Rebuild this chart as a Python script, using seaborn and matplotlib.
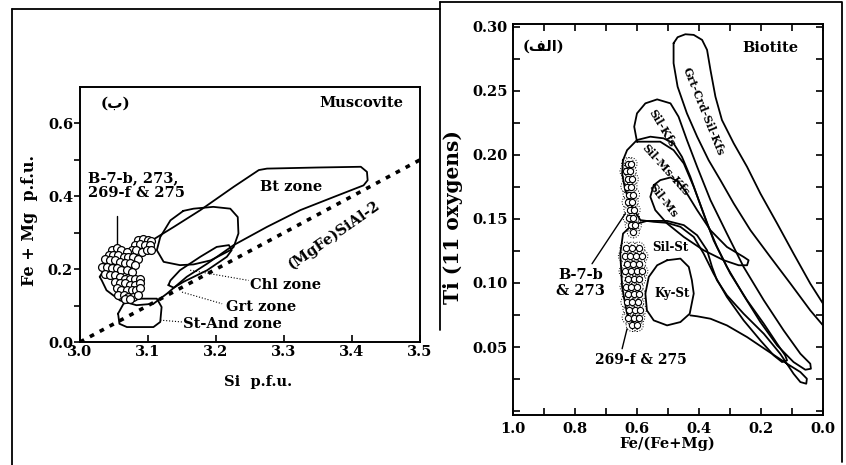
import numpy as np
import matplotlib
matplotlib.use("Agg")
import matplotlib.pyplot as plt
import seaborn as sns
from matplotlib.lines import Line2D
from matplotlib.ticker import FixedLocator, FormatStrFormatter

# ---------------- Muscovite panel (Si vs Fe+Mg) ----------------
tsch_si = [3.0, 3.5]
tsch_femg = [0.0, 0.5]

bt_si = [3.029, 3.044, 3.069, 3.098, 3.138, 3.177, 3.226, 3.263, 3.275, 3.349, 3.413, 3.422,
         3.423, 3.417, 3.373, 3.324, 3.275, 3.226, 3.187, 3.157, 3.128, 3.108, 3.083, 3.059,
         3.039, 3.032]
bt_femg = [0.179, 0.225, 0.252, 0.270, 0.316, 0.362, 0.426, 0.472, 0.476, 0.479, 0.481, 0.467,
           0.444, 0.430, 0.398, 0.362, 0.316, 0.266, 0.215, 0.179, 0.133, 0.105, 0.101, 0.114,
           0.142, 0.169]

chl_si = [3.152, 3.167, 3.196, 3.221, 3.232, 3.233, 3.226, 3.221, 3.192, 3.167, 3.147, 3.123,
          3.113, 3.118, 3.133]
chl_femg = [0.360, 0.366, 0.371, 0.366, 0.343, 0.298, 0.261, 0.252, 0.224, 0.213, 0.211, 0.220,
            0.252, 0.288, 0.334]

grt_si = [3.130, 3.133, 3.147, 3.177, 3.201, 3.219, 3.223, 3.216, 3.187, 3.152, 3.138]
grt_femg = [0.156, 0.169, 0.197, 0.234, 0.261, 0.266, 0.252, 0.234, 0.197, 0.165, 0.149]

stand_si = [3.056, 3.064, 3.088, 3.113, 3.120, 3.118, 3.108, 3.069, 3.058]
stand_femg = [0.078, 0.105, 0.119, 0.119, 0.096, 0.055, 0.041, 0.041, 0.050]

ms_si = [3.086, 3.093, 3.100, 3.105, 3.081, 3.088, 3.096, 3.103, 3.076, 3.083, 3.091, 3.098,
         3.105, 3.047, 3.054, 3.061, 3.069, 3.042, 3.049, 3.056, 3.064, 3.071, 3.078, 3.086,
         3.037, 3.044, 3.051, 3.059, 3.066, 3.074, 3.081, 3.032, 3.039, 3.047, 3.054, 3.061,
         3.069, 3.076, 3.037, 3.044, 3.051, 3.059, 3.066, 3.074, 3.081, 3.088,
         3.051, 3.059, 3.066, 3.074, 3.081, 3.088, 3.054, 3.061, 3.069, 3.076, 3.083, 3.088,
         3.056, 3.064, 3.071, 3.078, 3.086, 3.066, 3.074]
ms_femg = [0.279, 0.284, 0.279, 0.277, 0.266, 0.270, 0.266, 0.266, 0.252, 0.252, 0.247, 0.252,
           0.252, 0.252, 0.257, 0.252, 0.247, 0.238, 0.238, 0.238, 0.234, 0.234, 0.234, 0.229,
           0.229, 0.225, 0.225, 0.220, 0.216, 0.216, 0.211, 0.206, 0.206, 0.202, 0.202, 0.197,
           0.197, 0.193, 0.188, 0.184, 0.184, 0.179, 0.174, 0.174, 0.174, 0.174,
           0.165, 0.161, 0.161, 0.156, 0.156, 0.161, 0.147, 0.142, 0.142, 0.142, 0.142, 0.147,
           0.129, 0.129, 0.124, 0.124, 0.129, 0.118, 0.118]

# ---------------- Biotite panel (Fe/(Fe+Mg) vs Ti) ----------------
gcsk_x = [0.482, 0.482, 0.469, 0.439, 0.406, 0.369, 0.331, 0.288, 0.234, 0.170, 0.105, 0.041,
          0.0, -0.024, -0.024, 0.0, 0.041, 0.095, 0.148, 0.202, 0.245, 0.288, 0.326, 0.347,
          0.363, 0.374, 0.390, 0.417, 0.444, 0.469]
gcsk_ti = [0.2870, 0.2714, 0.2531, 0.2323, 0.2141, 0.1958, 0.1802, 0.1620, 0.1411, 0.1203,
           0.0995, 0.0786, 0.0669, 0.0604, 0.0773, 0.0839, 0.0995, 0.1229, 0.1464, 0.1698,
           0.1906, 0.2089, 0.2271, 0.2453, 0.2661, 0.2818, 0.2896, 0.2935, 0.2940, 0.2917]

silkfs_x = [0.600, 0.609, 0.600, 0.573, 0.535, 0.492, 0.466, 0.439, 0.406, 0.363, 0.310, 0.256,
            0.191, 0.127, 0.073, 0.041, 0.039, 0.057, 0.095, 0.148, 0.202, 0.256, 0.310, 0.353,
            0.385, 0.417, 0.449, 0.482, 0.525]
silkfs_ti = [0.2102, 0.2219, 0.2323, 0.2401, 0.2432, 0.2401, 0.2297, 0.2115, 0.1906, 0.1646,
             0.1385, 0.1125, 0.0865, 0.0630, 0.0448, 0.0370, 0.0331, 0.0323, 0.0383, 0.0513,
             0.0695, 0.0904, 0.1125, 0.1333, 0.1542, 0.1750, 0.1932, 0.2036, 0.2102]

silmskfs_x = [0.645, 0.632, 0.600, 0.557, 0.514, 0.482, 0.455, 0.428, 0.401, 0.374, 0.342,
              0.299, 0.245, 0.191, 0.148, 0.122, 0.116, 0.132, 0.159, 0.202, 0.256, 0.310,
              0.353, 0.385, 0.417, 0.460, 0.503, 0.546, 0.589, 0.616, 0.638, 0.648]
silmskfs_ti = [0.1958, 0.2036, 0.2115, 0.2141, 0.2128, 0.2089, 0.1984, 0.1828, 0.1646, 0.1464,
               0.1281, 0.1073, 0.0865, 0.0682, 0.0526, 0.0435, 0.0396, 0.0383, 0.0435, 0.0552,
               0.0708, 0.0891, 0.1073, 0.1229, 0.1359, 0.1438, 0.1469, 0.1477, 0.1490, 0.1594,
               0.1724, 0.1854]

silms_x = [0.546, 0.525, 0.492, 0.466, 0.439, 0.406, 0.363, 0.310, 0.256, 0.240, 0.245, 0.272,
           0.320, 0.385, 0.449, 0.503, 0.541, 0.557]
silms_ti = [0.1763, 0.1802, 0.1823, 0.1789, 0.1698, 0.1568, 0.1411, 0.1281, 0.1203, 0.1177,
            0.1138, 0.1138, 0.1177, 0.1255, 0.1359, 0.1464, 0.1568, 0.1672]

silst_x = [0.600, 0.632, 0.648, 0.654, 0.645, 0.616, 0.568, 0.503, 0.449, 0.406, 0.374, 0.358,
           0.342, 0.310, 0.256, 0.191, 0.138, 0.095, 0.073, 0.054, 0.052, 0.073, 0.116, 0.181,
           0.245, 0.310, 0.363, 0.406, 0.428]
silst_ti = [0.0643, 0.0760, 0.0969, 0.1229, 0.1385, 0.1451, 0.1484, 0.1484, 0.1451, 0.1372,
            0.1255, 0.1125, 0.1021, 0.0904, 0.0760, 0.0604, 0.0448, 0.0292, 0.0227, 0.0214,
            0.0253, 0.0305, 0.0370, 0.0474, 0.0578, 0.0669, 0.0721, 0.0740, 0.0747]

kyst_x = [0.503, 0.460, 0.433, 0.423, 0.417, 0.430, 0.460, 0.503, 0.546, 0.568, 0.573, 0.562,
          0.535]
kyst_ti = [0.1177, 0.1190, 0.1125, 0.1021, 0.0917, 0.0760, 0.0695, 0.0669, 0.0708, 0.0786,
           0.0917, 0.1047, 0.1138]

bt_up_x = [0.630, 0.620, 0.635, 0.622, 0.628, 0.616, 0.632, 0.620, 0.625, 0.612, 0.628, 0.616,
           0.622, 0.610, 0.625, 0.612, 0.618, 0.606, 0.612]
bt_up_ti = [0.193, 0.193, 0.187, 0.187, 0.181, 0.181, 0.175, 0.175, 0.169, 0.169, 0.163, 0.163,
            0.157, 0.157, 0.151, 0.151, 0.145, 0.145, 0.140]

bt_lo_x = [0.635, 0.615, 0.595, 0.640, 0.622, 0.602, 0.585, 0.632, 0.612, 0.592, 0.638, 0.620,
           0.600, 0.585, 0.630, 0.610, 0.592, 0.635, 0.618, 0.600, 0.628, 0.610, 0.592, 0.632,
           0.615, 0.598, 0.625, 0.607, 0.590, 0.628, 0.610, 0.595, 0.615, 0.600]
bt_lo_ti = [0.127, 0.127, 0.127, 0.121, 0.121, 0.121, 0.121, 0.115, 0.115, 0.115, 0.109, 0.109,
            0.109, 0.109, 0.103, 0.103, 0.103, 0.097, 0.097, 0.097, 0.091, 0.091, 0.091, 0.085,
            0.085, 0.085, 0.079, 0.079, 0.079, 0.073, 0.073, 0.073, 0.067, 0.067]

# ---------------- style ----------------
sns.set_theme(style="white")
plt.rcParams['font.family'] = ['DejaVu Serif', 'DejaVu Sans']
plt.rcParams['font.weight'] = 'bold'
plt.rcParams['axes.labelweight'] = 'bold'
plt.rcParams['text.color'] = 'black'
plt.rcParams['axes.labelcolor'] = 'black'
plt.rcParams['xtick.color'] = 'black'
plt.rcParams['ytick.color'] = 'black'

W, H = 846, 465
fig = plt.figure(figsize=(W / 100, H / 100), dpi=100)
fig.patch.set_facecolor('white')


def fx(p):
    return p / W


def fy(p):
    return 1 - p / H


def outline(ax, xs, ys, closed=True, **kw):
    xs = list(xs)
    ys = list(ys)
    if closed:
        xs = xs + xs[:1]
        ys = ys + ys[:1]
    ax.plot(xs, ys, color='black', lw=1.3, solid_capstyle='round', **kw)


# frames
frame_kw = dict(transform=fig.transFigure, color='black', lw=1.3)
fig.add_artist(Line2D([fx(12), fx(12)], [fy(9), fy(465)], **frame_kw))
fig.add_artist(Line2D([fx(12), fx(440)], [fy(9), fy(9)], **frame_kw))
fig.add_artist(Line2D([fx(440), fx(842), fx(842)], [fy(2), fy(2), fy(462)], **frame_kw))
fig.add_artist(Line2D([fx(440), fx(440)], [fy(2), fy(330)], **frame_kw))

# ---- left: Muscovite ----
ax1 = fig.add_axes([fx(80), fy(342), fx(340), 255 / H])
ax1.set_xlim(3.0, 3.5)
ax1.set_ylim(0.0, 0.70)

ax1.plot(tsch_si, tsch_femg, color='black', lw=2.6, linestyle=(0, (1.3, 1.8)), zorder=4)
outline(ax1, bt_si, bt_femg)
outline(ax1, chl_si, chl_femg)
outline(ax1, grt_si, grt_femg)
outline(ax1, stand_si, stand_femg)
sns.scatterplot(x=ms_si, y=ms_femg, ax=ax1, marker='o', s=32, color='white',
                edgecolor='black', linewidth=0.9, zorder=5, legend=False)

ax1.plot([3.054, 3.054], [0.345, 0.262], color='black', lw=1.0)
ax1.text(3.012, 0.430, "B-7-b, 273,\n269-f & 275", fontsize=10.5, ha='left', va='center',
         linespacing=1.1)
ax1.text(3.03, 0.655, "(ب)", fontsize=11, ha='left', va='center')
ax1.text(3.475, 0.655, "Muscovite", fontsize=10.5, ha='right', va='center')
ax1.text(3.31, 0.426, "Bt zone", fontsize=10.5, ha='center', va='center')
ax1.text(3.373, 0.293, "(MgFe)SiAl-2", fontsize=10.5, ha='center', va='center', rotation=35)
ax1.text(3.25, 0.156, "Chl zone", fontsize=10.5, ha='left', va='center')
ax1.text(3.214, 0.096, "Grt zone", fontsize=10.5, ha='left', va='center')
ax1.text(3.152, 0.050, "St-And zone", fontsize=10.5, ha='left', va='center')
ax1.plot([3.162, 3.248], [0.197, 0.169], color='black', lw=0.8, linestyle=':')
ax1.plot([3.150, 3.209], [0.137, 0.105], color='black', lw=0.8, linestyle=':')
ax1.plot([3.118, 3.150], [0.060, 0.055], color='black', lw=0.8, linestyle=':')

ax1.xaxis.set_major_locator(FixedLocator([3.0, 3.1, 3.2, 3.3, 3.4, 3.5]))
ax1.xaxis.set_major_formatter(FormatStrFormatter('%.1f'))
ax1.yaxis.set_major_locator(FixedLocator([0.0, 0.2, 0.4, 0.6]))
ax1.yaxis.set_minor_locator(FixedLocator([0.1, 0.3, 0.5]))
ax1.yaxis.set_major_formatter(FormatStrFormatter('%.1f'))
ax1.tick_params(axis='x', direction='in', length=5, width=1.2, pad=2, labelsize=10.5,
                bottom=True)
ax1.tick_params(axis='y', which='both', direction='out', length=4, width=1.2, pad=1,
                labelsize=10.5, left=True)
ax1.set_xlabel("Si  p.f.u.", fontsize=10.5)
ax1.set_ylabel("Fe + Mg  p.f.u.", fontsize=11.5)
ax1.xaxis.set_label_coords(0.524, -0.13)
ax1.yaxis.set_label_coords(-0.125, 0.475)
for sp in ax1.spines.values():
    sp.set_color('black')
    sp.set_linewidth(1.4)

# ---- right: Biotite ----
ax2 = fig.add_axes([fx(513), fy(415), fx(310), 391 / H])
ax2.set_xlim(1.0, 0.0)
ax2.set_ylim(-0.003, 0.302)

outline(ax2, gcsk_x, gcsk_ti)
outline(ax2, silkfs_x, silkfs_ti)
outline(ax2, silmskfs_x, silmskfs_ti)
outline(ax2, silms_x, silms_ti)
outline(ax2, silst_x, silst_ti, closed=False)
outline(ax2, kyst_x, kyst_ti)

for cx, cy in [(bt_up_x, bt_up_ti), (bt_lo_x, bt_lo_ti)]:
    ax2.scatter(cx, cy, s=80, facecolors='none', edgecolors='black', linewidths=0.7,
                linestyles=':', zorder=4)
    sns.scatterplot(x=cx, y=cy, ax=ax2, marker='o', s=20, color='white',
                    edgecolor='black', linewidth=0.8, zorder=5, legend=False)

ax2.plot([0.745, 0.638], [0.115, 0.154], color='black', lw=1.0)
ax2.plot([0.648, 0.632], [0.0487, 0.0643], color='black', lw=1.0)
ax2.text(0.783, 0.100, "B-7-b\n& 273", fontsize=10.5, ha='center', va='center',
         linespacing=1.1)
ax2.text(0.589, 0.0396, "269-f & 275", fontsize=10, ha='center', va='center')
ax2.text(0.97, 0.284, "(\ufed2\ufedf\ufe8d)", fontsize=10.5, ha='left', va='center')
ax2.text(0.08, 0.283, "Biotite", fontsize=10.5, ha='right', va='center')

zone_kw = dict(fontsize=8, ha='center', va='center', rotation_mode='anchor')
ax2.text(0.385, 0.2336, "Grt-Crd-Sil-Kfs", rotation=-68, **zone_kw)
ax2.text(0.519, 0.2206, "Sil-Kfs", rotation=-59, **zone_kw)
ax2.text(0.509, 0.1880, "Sil-Ms-Kfs", rotation=-48, **zone_kw)
ax2.text(0.514, 0.1646, "Sil-Ms", rotation=-52, **zone_kw)
ax2.text(0.492, 0.1280, "Sil-St", fontsize=8.5, ha='center', va='center')
ax2.text(0.487, 0.0917, "Ky-St", fontsize=8.5, ha='center', va='center')

ax2.xaxis.set_major_locator(FixedLocator([1.0, 0.8, 0.6, 0.4, 0.2, 0.0]))
ax2.xaxis.set_minor_locator(FixedLocator([0.9, 0.7, 0.5, 0.3, 0.1]))
ax2.xaxis.set_major_formatter(FormatStrFormatter('%.1f'))
ax2.yaxis.set_major_locator(FixedLocator([0.05, 0.10, 0.15, 0.20, 0.25, 0.30]))
ax2.yaxis.set_minor_locator(FixedLocator([0.0, 0.025, 0.075, 0.125, 0.175, 0.225, 0.275]))
ax2.yaxis.set_major_formatter(FormatStrFormatter('%.2f'))
ax2.tick_params(axis='both', which='both', direction='in', length=5, width=1.2,
                top=True, right=True, bottom=True, left=True)
ax2.tick_params(axis='x', which='major', pad=5, labelsize=10.5)
ax2.tick_params(axis='y', which='major', pad=4, labelsize=10.5)
ax2.set_xlabel("Fe/(Fe+Mg)", fontsize=10.5)
ax2.set_ylabel("Ti (11 oxygens)", fontsize=14.5)
ax2.xaxis.set_label_coords(0.497, -0.055)
ax2.yaxis.set_label_coords(-0.16, 0.506)
for sp in ax2.spines.values():
    sp.set_color('black')
    sp.set_linewidth(1.4)

fig.savefig("out.png", dpi=100, facecolor='white')
